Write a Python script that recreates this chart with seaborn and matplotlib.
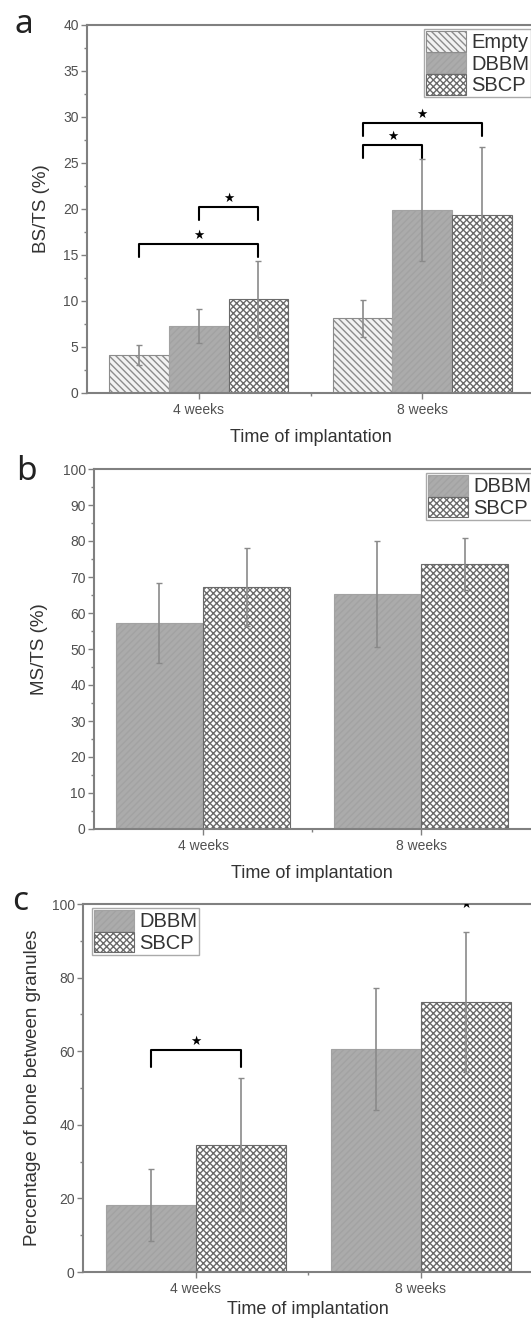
import numpy as np
import pandas as pd
import matplotlib
matplotlib.use("Agg")
import matplotlib.pyplot as plt
import seaborn as sns
from matplotlib.patches import Patch
from matplotlib.ticker import MultipleLocator

# values (mean, SD)
weeks = ["4 weeks", "8 weeks"]

a_groups = ["Empty", "DBBM", "SBCP"]
a_empty_mean = [4.1, 8.1]
a_empty_sd = [1.1, 2.05]
a_dbbm_mean = [7.25, 19.9]
a_dbbm_sd = [1.85, 5.5]
a_sbcp_mean = [10.2, 19.3]
a_sbcp_sd = [4.1, 7.4]

b_groups = ["DBBM", "SBCP"]
b_dbbm_mean = [57.3, 65.2]
b_dbbm_sd = [11.1, 14.7]
b_sbcp_mean = [67.2, 73.5]
b_sbcp_sd = [10.8, 7.2]

c_groups = ["DBBM", "SBCP"]
c_dbbm_mean = [18.2, 60.6]
c_dbbm_sd = [9.9, 16.6]
c_sbcp_mean = [34.6, 73.4]
c_sbcp_sd = [18.0, 19.0]

# significance brackets: (week index, group 1, group 2, height)
a_brackets = [(0, "Empty", "SBCP", 16.2), (0, "DBBM", "SBCP", 20.25),
              (1, "Empty", "DBBM", 26.95), (1, "Empty", "SBCP", 29.3)]
c_brackets = [(0, "DBBM", "SBCP", 60.2)]

sns.set_style("ticks")
plt.rcParams["font.family"] = ["Liberation Sans", "DejaVu Sans"]
plt.rcParams["hatch.linewidth"] = 1.0

styles = {
    "Empty": dict(facecolor="#f2f2f2", edgecolor="#8c8c8c", hatch="\\\\\\\\\\"),
    "DBBM": dict(facecolor="#ababab", edgecolor="#a2a2a2", hatch="/////"),
    "SBCP": dict(facecolor="white", edgecolor="#6a6a6a", hatch="xxxxx"),
}
spine_col = "#808080"
text_col = "#333333"


def panel(ax, groups, means, sds, ylim, major, minor, ylabel, ylab_x,
          xlabelpad, brackets, drop, leg_anchor):
    rows = []
    for g, m in zip(groups, means):
        for w, v in zip(weeks, m):
            rows.append({"week": w, "group": g, "value": v})
    df = pd.DataFrame(rows)
    sns.barplot(data=df, x="week", y="value", hue="group", order=weeks,
                hue_order=groups, errorbar=None, width=0.8, legend=False, ax=ax)

    centers = {}
    for cont, g, sd in zip(ax.containers, groups, sds):
        for i, (bar, s) in enumerate(zip(cont, sd)):
            bar.set(**styles[g])
            bar.set_linewidth(0.8)
            cx = bar.get_x() + bar.get_width() / 2
            centers[(i, g)] = cx
            ax.errorbar(cx, bar.get_height(), yerr=s, color="#8a8a8a", lw=1.2,
                        capsize=2.5, capthick=1, zorder=3)

    for wi, g1, g2, y in brackets:
        x1, x2 = centers[(wi, g1)], centers[(wi, g2)]
        ax.plot([x1, x1, x2, x2], [y - drop, y, y, y - drop], color="black",
                lw=1.5, zorder=4)
        ax.annotate("★", ((x1 + x2) / 2, y), xytext=(0, 1.5),
                    textcoords="offset points", ha="center", va="bottom",
                    fontsize=9, family="DejaVu Sans", color="black")

    ax.set_xlim(-0.5, 1.5)
    ax.set_ylim(*ylim)
    ax.yaxis.set_major_locator(MultipleLocator(major))
    ax.yaxis.set_minor_locator(MultipleLocator(minor))
    ax.set_xticks([0.5], minor=True)
    for sp in ax.spines.values():
        sp.set_visible(True)
        sp.set_color(spine_col)
        sp.set_linewidth(1.5)
    ax.spines["right"].set_visible(False)
    ax.tick_params(which="major", length=4, width=1, color=spine_col,
                   direction="out", labelsize=10, labelcolor="#505050", pad=3)
    ax.tick_params(which="minor", length=2.5, width=1, color=spine_col,
                   direction="out")
    ax.tick_params(axis="y", pad=2)
    ax.set_xlabel("Time of implantation", fontsize=13, color=text_col,
                  labelpad=xlabelpad)
    ax.set_ylabel(ylabel, fontsize=13.5, color=text_col)
    ax.yaxis.set_label_coords(ylab_x, 0.5)

    handles = [Patch(label=g, linewidth=0.8, **styles[g]) for g in groups]
    leg = ax.legend(handles=handles, loc="upper left", bbox_to_anchor=leg_anchor,
                    bbox_transform=ax.figure.transFigure, borderaxespad=0,
                    fontsize=14.5, labelspacing=0.02, handlelength=2.0,
                    handleheight=1.2, handletextpad=0.25, borderpad=0.1,
                    fancybox=False, framealpha=1, edgecolor="#aaaaaa")
    for t in leg.get_texts():
        t.set_color(text_col)


W, H = 531, 1329
fig = plt.figure(figsize=(W / 100, H / 100), dpi=100)


def place(left, right, top, bottom):
    return fig.add_axes([left / W, 1 - bottom / H, (right - left) / W,
                         (bottom - top) / H])


ax_a = place(87, 534, 25, 393)
panel(ax_a, a_groups, [a_empty_mean, a_dbbm_mean, a_sbcp_mean],
      [a_empty_sd, a_dbbm_sd, a_sbcp_sd], (0, 40), 5, 2.5, "BS/TS (%)",
      -0.083, 9, a_brackets, 1.4, (424 / W, 1 - 29 / H))

ax_b = place(94, 530, 469, 829)
panel(ax_b, b_groups, [b_dbbm_mean, b_sbcp_mean], [b_dbbm_sd, b_sbcp_sd],
      (0, 100), 10, 5, "MS/TS (%)", -0.105, 9, [], 0, (426 / W, 1 - 473 / H))

ax_c = place(83, 533, 904, 1272)
panel(ax_c, c_groups, [c_dbbm_mean, c_sbcp_mean], [c_dbbm_sd, c_sbcp_sd],
      (0, 100), 20, 10, "Percentage of bone between granules", -0.093, 4,
      c_brackets, 4.4, (92 / W, 1 - 908 / H))
# star above the 8-week SBCP bar, cut by the top of the frame
ax_c.text(1.2, 100, "★", ha="center", va="center", fontsize=9,
          family="DejaVu Sans", color="black", clip_on=True)

for letter, x, y in [("a", 14, 33), ("b", 16, 480), ("c", 12, 910)]:
    fig.text(x / W, 1 - y / H, letter, fontsize=24, family="Noto Sans",
             va="baseline", color="#222222")

fig.savefig("out.png", dpi=100)
